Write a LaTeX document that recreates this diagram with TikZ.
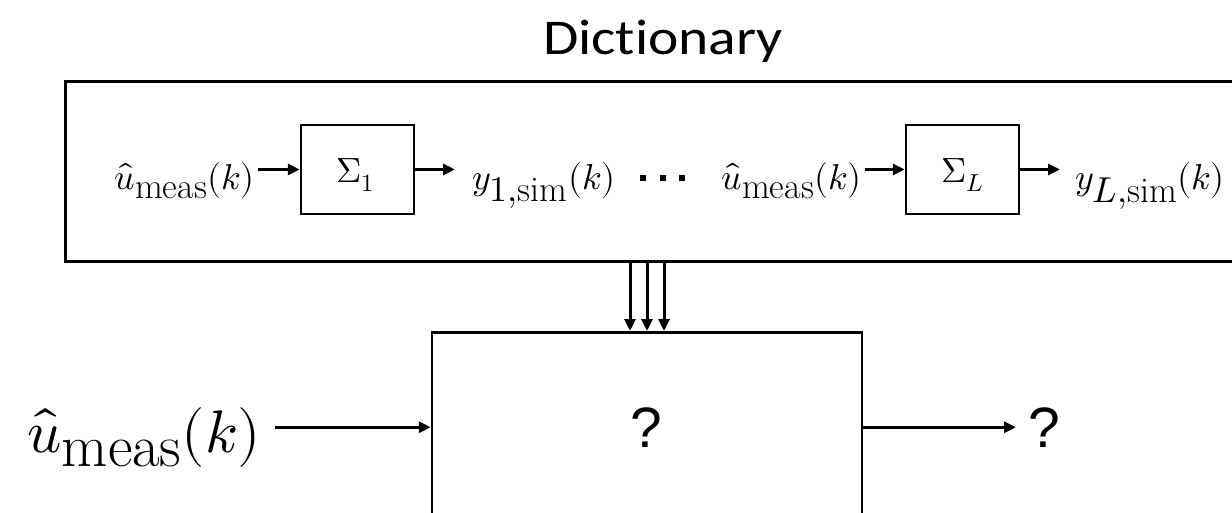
\documentclass[tikz,border=0pt]{standalone}
\usepackage{fontspec}
\usepackage{unicode-math}
\setmathfont{Latin Modern Math}
\newfontfamily\calfont[FakeStretch=1.15, Ligatures=NoCommon]{Carlito}
\newfontfamily\arialfont{Liberation Sans}
\usetikzlibrary{arrows.meta}
\tikzset{
 blk/.style={draw, line width=2.5pt, minimum width=113pt, minimum height=89pt, inner sep=0pt},
 sig/.style={inner sep=0pt, font=\fontsize{35}{38}\selectfont},
 lab/.style={inner sep=0pt, font=\fontsize{36}{40}\selectfont},
 biglab/.style={inner sep=0pt, font=\fontsize{60}{66}\selectfont},
 qm/.style={inner sep=0pt, font=\arialfont\fontsize{57}{60}\selectfont},
 arr/.style={line width=3pt, -{Triangle[length=12pt,width=11pt]}},
 sqdot/.style={fill=black, minimum size=6pt, inner sep=0pt}
}
\begin{document}
\begin{tikzpicture}[x=1pt,y=-1pt]
\useasboundingbox (0,0) rectangle (1232,513);
\clip (0,0) rectangle (1232,513);
% dictionary frame
\node[draw, line width=3pt, minimum width=1180pt, minimum height=180pt, anchor=north west, inner sep=0pt] (dict) at (64,80) {};
\node[anchor=base, inner sep=0pt, font=\calfont\fontsize{50}{54}\selectfont] (title) at (663,55) {Dictionary};
% first system
\node[blk] (s1) at (357.5,169.5) {};
\node[sig, anchor=base west] (s1t) at (336,183) {$\Sigma_1$};
\node[lab, anchor=base east] (in1) at (255,190) {$\hat{u}_{\textstyle\mathrm{meas}}(k)$};
\node[lab, anchor=base west] (y1) at (472,190) {$y_{\textstyle 1{,}\mathrm{sim}}(k)$};
\draw[arr] ([xshift=3pt]in1.east |- s1.west) -- (s1.west);
\draw[arr] (s1.east) -- ([xshift=-17pt]y1.west |- s1.east);
% dots
\node[sqdot] (d1) at (643,178) {};
\node[sqdot] (d2) at (663,178) {};
\node[sqdot] (d3) at (682,178) {};
% L-th system
\node[blk] (sL) at (962.5,169.5) {};
\node[sig, anchor=base west] (sLt) at (941,183) {$\Sigma_L$};
\node[lab, anchor=base east] (in2) at (862,190) {$\hat{u}_{\textstyle\mathrm{meas}}(k)$};
\node[lab, anchor=base west] (yL) at (1075,190) {$y_{\textstyle L{,}\mathrm{sim}}(k)$};
\draw[arr] ([xshift=3pt]in2.east |- sL.west) -- (sL.west);
\draw[arr] (sL.east) -- ([xshift=-15pt]yL.west |- sL.east);
% unknown block
\node[draw, line width=2.5pt, minimum width=430pt, minimum height=190pt, anchor=north, inner sep=0pt] (big) at (647,331) {};
\node[qm, anchor=base] (q1) at (646,447) {?};
\node[biglab, anchor=base east] (in0) at (261,452) {$\hat{u}_{\textstyle\mathrm{meas}}(k)$};
\node[qm, anchor=base west] (q2) at (1028,447) {?};
\draw[arr] ([xshift=14pt]in0.east |- big.west) -- (big.west);
\draw[arr] (big.east) -- ([xshift=-12pt]q2.west |- big.east);
% dictionary to block
\foreach \dx in {-17,0,17}
  \draw[arr] ([xshift=\dx pt]big.north |- dict.south) -- ([xshift=\dx pt]big.north);
\end{tikzpicture}
\end{document}
